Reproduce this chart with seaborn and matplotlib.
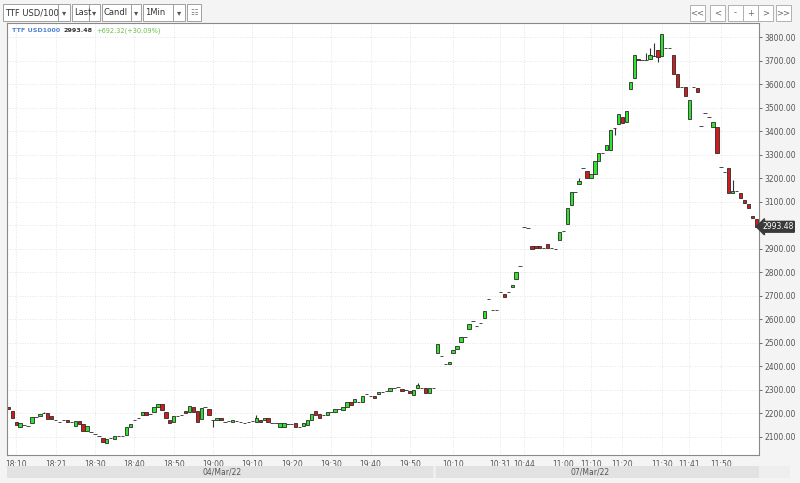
import matplotlib
matplotlib.use("Agg")
import matplotlib.pyplot as plt
import seaborn as sns
import numpy as np
from matplotlib.patches import Rectangle

# 1-minute candles, gaps between minutes removed (one slot per candle)
open_day1 = [2229, 2208, 2165, 2141, 2151, 2148, 2158, 2186, 2187, 2200,
             2201, 2187, 2172, 2165, 2170, 2172, 2162, 2148, 2168, 2154,
             2123, 2120, 2111, 2104, 2095, 2073, 2095, 2092, 2102, 2104,
             2106, 2141, 2172, 2182, 2194, 2204, 2196, 2204, 2226, 2239,
             2204, 2172, 2162, 2190, 2194, 2208, 2204, 2229, 2208, 2175,
             2229, 2218, 2170, 2172, 2182, 2165, 2168, 2165, 2168, 2165,
             2161, 2165, 2168, 2165, 2172, 2172, 2180, 2158, 2158, 2144,
             2144, 2154, 2154, 2158, 2144, 2147, 2151, 2172, 2208, 2197,
             2194, 2194, 2205, 2204, 2218, 2215, 2229, 2250, 2250, 2250,
             2250, 2283, 2274, 2274, 2281, 2293, 2297, 2296, 2307, 2314,
             2303, 2300, 2297, 2278, 2307, 2307, 2307, 2286, 2307]
close_day1 = [2218, 2180, 2151, 2158, 2151, 2148, 2184, 2186, 2198, 2200,
              2175, 2175, 2172, 2165, 2170, 2162, 2162, 2168, 2154, 2126,
              2148, 2120, 2111, 2104, 2080, 2092, 2095, 2102, 2102, 2104,
              2140, 2155, 2172, 2182, 2204, 2194, 2196, 2226, 2239, 2215,
              2182, 2158, 2187, 2190, 2194, 2201, 2232, 2204, 2165, 2222,
              2229, 2194, 2170, 2182, 2172, 2165, 2168, 2172, 2168, 2165,
              2161, 2165, 2168, 2182, 2165, 2182, 2162, 2158, 2158, 2158,
              2158, 2154, 2154, 2141, 2144, 2158, 2172, 2198, 2194, 2182,
              2194, 2204, 2205, 2218, 2218, 2225, 2250, 2236, 2262, 2250,
              2274, 2283, 2274, 2267, 2293, 2293, 2297, 2307, 2307, 2314,
              2297, 2300, 2286, 2300, 2321, 2307, 2286, 2307, 2307]

open_day2 = [2455, 2444, 2410, 2410, 2458, 2474, 2502, 2526, 2557, 2594,
             2572, 2583, 2607, 2686, 2640, 2640, 2715, 2706, 2718, 2736,
             2770, 2827, 2991, 2987, 2913, 2910, 2910, 2905, 2919, 2902,
             2899, 2937, 2975, 3005, 3086, 3143, 3175, 3242, 3232, 3200,
             3218, 3274, 3308, 3320, 3320, 3412, 3429, 3461, 3440, 3578,
             3624, 3709, 3702, 3702, 3705, 3720, 3745, 3720, 3755, 3755,
             3723, 3645, 3589, 3589, 3452, 3586, 3582, 3422, 3476, 3459,
             3419, 3419, 3249, 3228, 3245, 3136, 3145, 3136, 3107, 3090,
             3039, 3025]
close_day2 = [2495, 2444, 2410, 2420, 2470, 2488, 2524, 2526, 2580, 2594,
              2572, 2583, 2637, 2686, 2640, 2640, 2715, 2693, 2718, 2746,
              2803, 2827, 2991, 2987, 2899, 2902, 2902, 2905, 2902, 2902,
              2899, 2973, 2975, 3072, 3143, 3143, 3189, 3242, 3200, 3220,
              3274, 3308, 3308, 3341, 3405, 3412, 3471, 3433, 3487, 3610,
              3723, 3702, 3702, 3702, 3723, 3720, 3716, 3813, 3755, 3755,
              3645, 3589, 3589, 3549, 3532, 3586, 3565, 3422, 3476, 3459,
              3440, 3306, 3249, 3228, 3136, 3147, 3145, 3114, 3093, 3072,
              3029, 2993]

# candles whose shadow sticks out of the body
wick_slot = [9, 52, 63, 104, 145, 154, 162, 163, 164, 165, 184]
wick_high = [2206, 2170, 2192, 2331, 3199, 3412, 3731, 3752, 3773, 3745, 3192]
wick_low = [2200, 2144, 2165, 2307, 3175, 3383, 3702, 3705, 3719, 3695, 3136]

tick_slot = [2, 12, 22, 32, 42, 52, 62, 72, 82, 92, 102,
             113, 125, 131, 141, 148, 156, 166, 173, 181]
tick_text = ["18:10", "18:21", "18:30", "18:40", "18:50", "19:00", "19:10",
             "19:20", "19:30", "19:40", "19:50", "10:10", "10:31", "10:44",
             "11:00", "11:10", "11:20", "11:30", "11:41", "11:50"]
price_levels = list(range(2100, 3900, 100))
last_price = 2993.48

opens = np.array(open_day1 + open_day2, dtype=float)
closes = np.array(close_day1 + close_day2, dtype=float)
slots = np.arange(len(opens))

sns.set_theme(style="white")
plt.rcParams['font.family'] = ['DejaVu Sans']

W, H = 800, 483
fig = plt.figure(figsize=(W / 100, H / 100), dpi=100, facecolor="#f4f4f4")


def fx(x):
    return x / W


def fy(y):
    return 1 - y / H


ax = fig.add_axes([fx(7), fy(455), (759 - 7) / W, (455 - 23) / H])
ax.set_facecolor("white")

# grid
for p in price_levels:
    ax.axhline(p, color="#dcdcdc", lw=0.6, ls=(0, (1, 2)), zorder=0)
for t in tick_slot:
    ax.axvline(t, color="#dcdcdc", lw=0.6, ls=(0, (1, 2)), zorder=0)

# shadows
ax.vlines(wick_slot, wick_low, wick_high, color="#333333", lw=0.8, zorder=1)

# bodies
colors = np.where(closes > opens, "#2fe32f", np.where(closes < opens, "#d41b1b", "#333333"))
bottoms = np.minimum(opens, closes)
heights = np.abs(closes - opens)
ax.bar(slots, heights, bottom=bottoms, width=0.86, color=colors,
       edgecolor="#2a2a2a", linewidth=0.6, zorder=2)

ax.set_xlim(-0.35, 190.7)
ax.set_ylim(2023, 3860)

# the 3000.00 label is hidden behind the last-price marker
ax.yaxis.tick_right()
ax.set_yticks(price_levels)
ax.set_yticklabels(["" if p == 3000 else f"{p:.2f}" for p in price_levels])
ax.set_xticks(tick_slot)
ax.set_xticklabels(tick_text)
ax.tick_params(axis="y", labelsize=5.5, colors="#555555", length=2, width=0.6, pad=2)
ax.tick_params(axis="x", labelsize=5.5, colors="#555555", length=2, width=0.6, pad=1.5)
for s in ax.spines.values():
    s.set_color("#8a8a8a")
    s.set_linewidth(0.8)

# legend line inside the chart
fig.text(fx(12), fy(31), "TTF USD1000", fontsize=4.6, color="#4f82d0",
         fontweight="bold", va="center")
fig.text(fx(63), fy(31), f"{last_price:.2f}", fontsize=4.6, color="#333333",
         fontweight="bold", va="center")
fig.text(fx(96), fy(31), "+692.32(+30.09%)", fontsize=4.8, color="#6abf4b", va="center")

# current price marker
ax.text(1.004, last_price, f"{last_price:.2f}", transform=ax.get_yaxis_transform(),
        fontsize=5.5, color="white", va="center", ha="left",
        bbox=dict(boxstyle="larrow,pad=0.12", fc="#3a3a3a", ec="#3a3a3a"))

# date band under the time axis
fig.patches.append(Rectangle((fx(7), fy(478)), (790 - 7) / W, 12 / H,
                             transform=fig.transFigure, fc="#eeeeee", ec="none"))
fig.patches.append(Rectangle((fx(7), fy(478)), (433 - 7) / W, 12 / H,
                             transform=fig.transFigure, fc="#e2e2e2", ec="none"))
fig.patches.append(Rectangle((fx(436), fy(478)), (759 - 436) / W, 12 / H,
                             transform=fig.transFigure, fc="#e2e2e2", ec="none"))
fig.text(fx(222), fy(472), "04/Mar/22", fontsize=5.5, color="#555555", ha="center", va="center")
fig.text(fx(590), fy(472), "07/Mar/22", fontsize=5.5, color="#555555", ha="center", va="center")


# toolbar widgets
def box(x0, x1, label=None, arrow=False):
    fig.patches.append(Rectangle((fx(x0), fy(21)), (x1 - x0) / W, 17 / H,
                                 transform=fig.transFigure, fc="white", ec="#a0a0a0", lw=0.7))
    if label:
        fig.text(fx(x0 + 2), fy(12.5), label, fontsize=6, color="#333333", va="center")
    if arrow:
        fig.text(fx((x0 + x1) / 2), fy(12.5), "\u25BE", fontsize=6, color="#555555",
                 va="center", ha="center")


box(3, 58, "TTF USD/100")
box(58, 70, arrow=True)
box(72, 89, "Last")
box(89, 100, arrow=True)
box(102, 131, "Candl")
box(131, 141, arrow=True)
box(143, 173, "1Min")
box(173, 185, arrow=True)
box(187, 201)
fig.text(fx(194), fy(12.5), "\u2637", fontsize=6, color="#777777", ha="center", va="center")

for x0, lab in [(690, "<<"), (710, "<"), (728, "-"), (743, "+"), (758, ">"), (776, ">>")]:
    fig.patches.append(Rectangle((fx(x0), fy(21)), 15 / W, 16 / H,
                                 transform=fig.transFigure, fc="white", ec="#b0b0b0", lw=0.7))
    fig.text(fx(x0 + 7.5), fy(13), lab, fontsize=6, color="#666666", ha="center", va="center")

fig.savefig("out.png", dpi=100, facecolor=fig.get_facecolor())
